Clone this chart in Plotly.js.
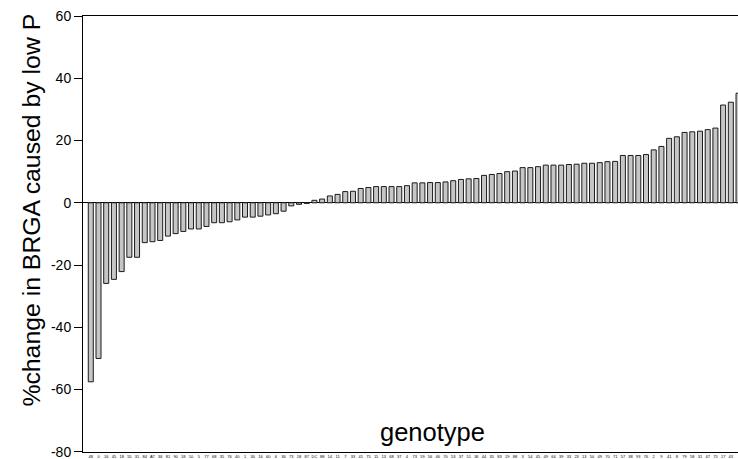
<!DOCTYPE html>
<html>
<head>
<meta charset="utf-8">
<script src="https://cdn.plot.ly/plotly-3.0.1.min.js"></script>
<style>html,body{margin:0;padding:0;background:#fff;overflow:hidden}#chart{width:738px;height:459px}</style>
</head>
<body>
<div id="chart"></div>
<script>
// genotype labels (tiny, mostly illegible in the reference; estimated)
const genotypes = ["48","0","16","45","18","55","31","84","AT","36","81","90","18","10","5","77","68","35","76","40","1","30","16","60","6","36","73","18","87","DC","88","14","11","7","33","41","75","15","13","68","37","4","73","59","56","46","70","53","37","51","36","44","35","83","19","88","3","54","45","49","64","39","33","23","13","50","49","70","71","57","38","93","76","2","9","41","8","79","58","31","47","75","17","43","56"];

// % change in BRGA caused by low P
const pctChange = [-57.5,-50.0,-25.9,-24.6,-22.1,-17.5,-17.5,-12.8,-12.5,-12.1,
  -10.7,-9.9,-9.2,-8.4,-8.4,-7.6,-6.4,-6.4,-6.1,-5.5,
  -4.6,-4.6,-4.3,-3.9,-3.5,-2.7,-1.0,-0.5,-0.2,0.8,
  1.2,2.2,2.7,3.6,3.7,4.6,4.9,5.2,5.2,5.2,
  5.2,5.5,6.4,6.4,6.5,6.5,6.7,7.1,7.5,7.7,
  7.8,8.8,9.1,9.4,10.0,10.2,11.3,11.3,11.6,12.1,
  12.1,12.1,12.3,12.4,12.7,12.7,12.9,13.2,13.3,15.2,
  15.2,15.2,15.5,17.0,18.1,20.7,21.2,22.6,22.8,23.0,
  23.5,24.0,31.4,32.3,35.2];

const yTickVals = [60,40,20,0,-20,-40,-60,-80];
const yTickText = ["60","40","20","0","-20","-40","-60","-80"];

const xPos = genotypes.map((_, i) => i);

const trace = {
  type: 'bar',
  x: xPos,
  y: pctChange,
  marker: {color: '#c6c6c6', line: {color: '#1a1a1a', width: 1}},
  hoverinfo: 'y'
};

const font = 'Arial, "Liberation Sans", sans-serif';

const layout = {
  width: 738, height: 459,
  margin: {l: 83, r: 0, t: 16, b: 7, pad: 0},
  paper_bgcolor: '#fff', plot_bgcolor: '#fff',
  showlegend: false,
  bargap: 0.35,
  font: {family: font, color: '#000'},
  xaxis: {
    range: [-1.01, 83.93],
    tickmode: 'array', tickvals: xPos, ticktext: genotypes,
    tickangle: 0,
    tickfont: {size: 4, family: font, color: '#000'},
    ticklabeloverflow: 'allow',
    ticks: '', ticklen: 0,
    showgrid: false, zeroline: false,
    showline: true, linecolor: '#000', linewidth: 1, mirror: true,
    automargin: false, fixedrange: true
  },
  yaxis: {
    range: [-80.05, 60],
    tickmode: 'array', tickvals: yTickVals, ticktext: yTickText,
    tickfont: {size: 14, family: font, color: '#000'},
    ticklabeloverflow: 'allow',
    ticks: 'outside', ticklen: 8, tickcolor: '#000', tickwidth: 1,
    showgrid: false,
    zeroline: true, zerolinecolor: '#000', zerolinewidth: 1,
    showline: true, linecolor: '#000', linewidth: 1,
    automargin: false, fixedrange: true
  },
  annotations: [{
    text: 'genotype', xref: 'paper', yref: 'paper',
    x: 0.533, y: 0.046, xanchor: 'center', yanchor: 'middle',
    showarrow: false, font: {size: 25.5, family: font, color: '#000'}
  }, {
    text: '%change in BRGA caused by low P', xref: 'paper', yref: 'paper',
    x: -0.08, y: 0.555, xanchor: 'center', yanchor: 'middle', textangle: -90,
    showarrow: false, font: {size: 24.8, family: font, color: '#000'}
  }]
};

Plotly.newPlot('chart', [trace], layout, {displayModeBar: false, staticPlot: true});
</script>
</body>
</html>
